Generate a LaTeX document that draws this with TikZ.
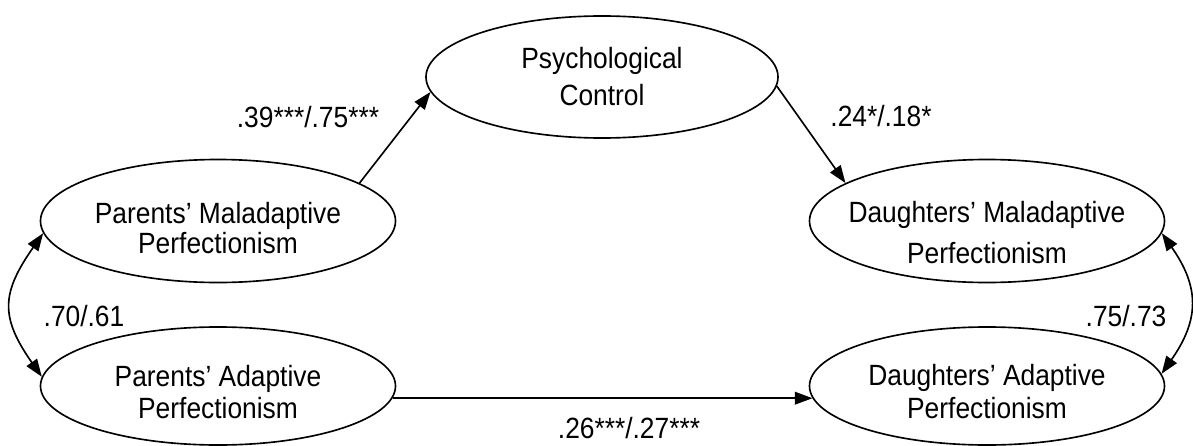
\documentclass[tikz,border=0pt]{standalone}
\usepackage{fontspec}
\setmainfont{Liberation Sans}[FakeStretch=0.9]
\usetikzlibrary{arrows.meta,shapes.geometric}
\newcommand{\alzar}[1]{\rule{0pt}{#1}}
\tikzset{
  latente/.style={ellipse, draw, line width=0.7pt, minimum width=5.325cm,
    minimum height=1.845cm, inner xsep=-12pt, inner ysep=0pt, align=center,
    font=\fontsize{12.5}{14.5}\selectfont},
  coef/.style={inner sep=0pt, font=\fontsize{12.5}{14}\selectfont},
  flecha/.style={-{Triangle[length=7.5pt,width=5.4pt]}, line width=0.7pt},
  covar/.style={{Triangle[length=7.5pt,width=5.4pt]}-{Triangle[length=7.5pt,width=5.4pt]},
    line width=0.7pt},
}

\begin{document}
\begin{tikzpicture}[x=0.015cm, y=0.015cm]
    \useasboundingbox (0,0) rectangle (1193,-446);
    \node[latente, minimum width=5.28cm, minimum height=1.83cm, font=\fontsize{12.5}{15.8}\selectfont] (pc) at (602,-77) {Psychological\\Control};
    \node[latente, font=\fontsize{12.5}{12.8}\selectfont] (pm) at (218,-221) {\alzar{15pt}Parents’ Maladaptive\\Perfectionism};
    \node[latente, minimum height=1.77cm, font=\fontsize{12.5}{13.8}\selectfont] (pa) at (218,-386) {\alzar{14pt}Parents’ Adaptive\\Perfectionism};
    \node[latente, font=\fontsize{12.5}{17.5}\selectfont] (dm) at (987,-221) {\alzar{19pt}Daughters’ Maladaptive\\Perfectionism};
    \node[latente, minimum height=1.77cm, font=\fontsize{12.5}{14.1}\selectfont] (da) at (987,-386) {\alzar{14pt}Daughters’ Adaptive\\Perfectionism};
    \node[coef] (b1) at (308,-117)  {.39***/.75***};
    \node[coef] (b2) at (881,-116)  {.24*/.18*};
    \node[coef] (r1) at (84,-316)   {.70/.61};
    \node[coef] (r2) at (1126,-316) {.75/.73};
    \node[coef] (b3) at (629,-428)  {.26***/.27***};
    \draw[flecha] (pm.15) -- (pc.185);
    \draw[flecha] (pc.357) -- (dm.165);
    \draw[flecha] (pa.356) -- (da.184);
    \draw[covar] (pm.184) to[out=235,in=125,looseness=1.3] (pa.177);
    \draw[covar] (dm.356) to[out=-55,in=55,looseness=1.2] (da.4);
  \end{tikzpicture}
\end{document}
